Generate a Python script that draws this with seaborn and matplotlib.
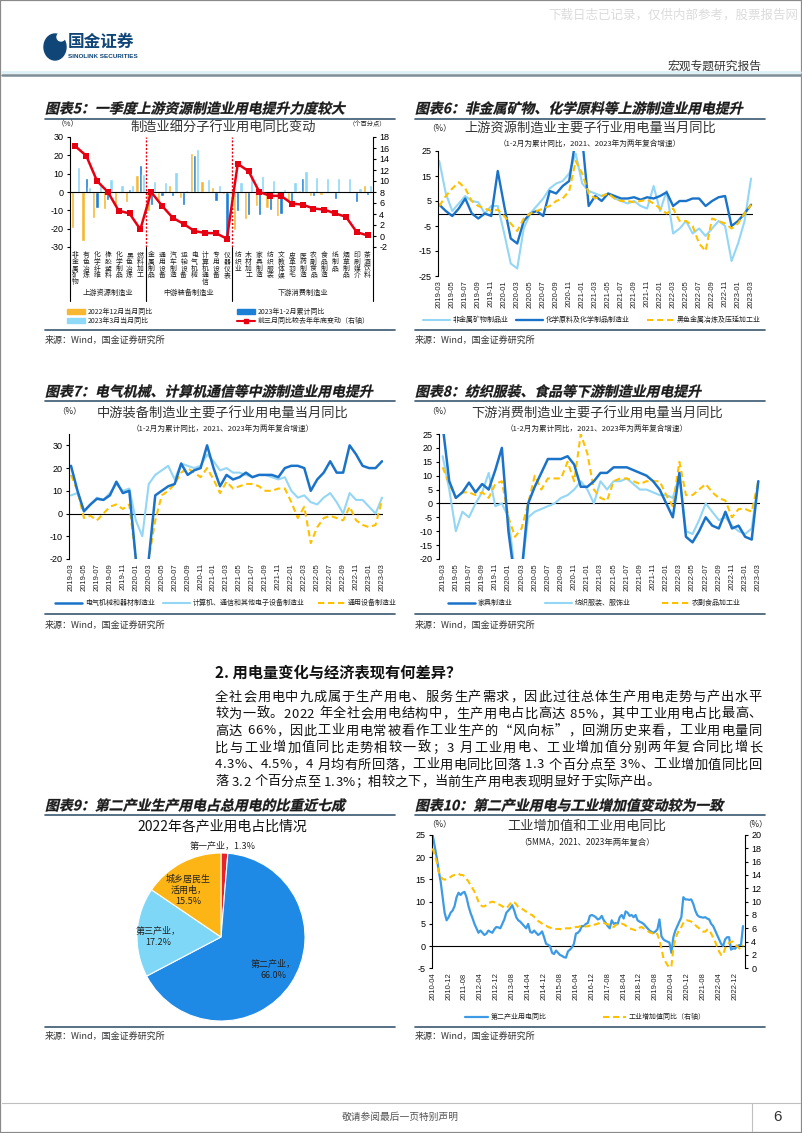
import numpy as np
import pandas as pd
import matplotlib
matplotlib.use('Agg')
import matplotlib.pyplot as plt
import matplotlib.transforms as mtrans
from matplotlib.lines import Line2D
from matplotlib.patches import Patch, Rectangle, Ellipse, PathPatch
from matplotlib.textpath import TextPath
from matplotlib.font_manager import FontProperties
import seaborn as sns

sns.set_theme(style='white')
plt.rcParams['font.family'] = ['Noto Sans CJK SC', 'DejaVu Sans']
plt.rcParams['axes.unicode_minus'] = False
plt.rcParams['axes.linewidth'] = 0.8

# ------------------------------------------------------------------ DATA
cats5 = ['非金属矿物', '有色冶炼', '化学纤维', '橡胶塑料', '化学制品', '黑色冶炼', '燃料加工',
         '金属制品', '通用设备', '汽车制造', '运输设备', '电气机械', '计算机通信', '专用设备', '仪器仪表',
         '纺织业', '木材加工', '家具制造', '纺织服装', '文教体娱', '皮革羽毛', '医药制造', '农副食品',
         '食品制造', '纸制品', '烟草制品', '印刷媒介', '茶酒饮料']
groups5 = ['上游资源制造业', '中游装备制造业', '下游消费制造业']
dec22 = [-19.5, -26.5, -14.3, -9.3, -7, -5.5, 9.5,
         -10.6, -5, 4, -3, 21.4, 5.9, 2.7, -1,
         -20.7, -14.6, -7.9, -8.8, -13, -6, 1, -2, -1.8, 0.8, 0.5, 0.5, 3.7]
jf23 = [0.5, 7.7, -8.8, -4.6, 0.4, 1.6, 14.5,
        -7.3, -2.4, -2.4, -7, 20, 0.5, -4.8, -25.5,
        -10.6, -12.8, -12.8, -9.9, -11.9, -8.2, 7.7, -2, 0.5, -3.8, 0.3, -5.7, -1.8]
mar23 = [13.5, 3, 4, 7.3, 3.7, 3.7, 10,
         6.2, 5.3, 10.8, 1, 23.3, 7.3, 3.7, -1,
         5.5, 9, 9, 6.6, 1.6, 5.5, 11.3, 8.4, 7.5, 7.7, 7.9, 2, 4]
red5 = [16.3, 14.6, 10.0, 8.0, 4.6, 4.1, 1.2,
        8.0, 5.5, 3.3, 2.2, 0.9, 0.55, 0.5, -0.5,
        13.1, 11.8, 8.0, 7.3, 7.3, 5.9, 5.7, 5.0, 4.8, 4.1, 3.5, 0.7, 0.1]
leg5 = ['2022年12月当月同比', '2023年1-2月累计同比', '2023年3月当月同比', '前三月同比较去年年底变动（右轴）']

ticks_m = ['2019-03', '2019-05', '2019-07', '2019-09', '2019-11', '2020-01', '2020-03', '2020-05',
           '2020-07', '2020-09', '2020-11', '2021-01', '2021-03', '2021-05', '2021-07', '2021-09',
           '2021-11', '2022-01', '2022-03', '2022-05', '2022-07', '2022-09', '2022-11', '2023-01', '2023-03']

c6_lb = [21, 8, 1, 4, 7, 5, 4.5, 0, 3, 3, -8, -20, -22, -6, 0, 3, 6, 10, 12, 13,
         16, 24, 12, 9, 8, 7, 8, 6, 5, 4, 5, 3, 2, 11, 1, 9, -8, -6, -3, -8,
         -6, -9, -6, -3, -5, -19, -12, -3, 14]
c6_db = [3.5, 1, -1, 2, 6, 0, -2, 0, -1, 17, 3, -10, -12, -3, 0, 1, -1, 9, 8, 11,
         13, 30, 30, 3, 7, 5, 8, 7, 6, 6, 6.5, 5.5, 6.5, 6, 7, 8.5, 3, 5, 5, 6,
         6, 3, 5, 6.5, 7, -5, -3, 0, 3.5]
c6_yl = [3, 7, 10, 12.5, 10, 5, 3, 2, 1, 1.5, -1, -4, -7, -2, 0, 1, 2, 3, 5, 6,
         9, 21, 16, 8, 6, 7, 8, 6, 5, 5, 4.5, 5, 5.5, 4, 2, 0, 2, -3, -3, -5,
         -12, -15, -2, -3, -4, -6, -4, 0, 3.5]
leg6 = ['非金属矿物制品业', '化学原料及化学制品制造业', '黑色金属冶炼及压延加工业']

c7_db = [21, 10, 1, 4, 6.5, 6, 8, 14, 9, 10, -20, -28, -20, 8, 10, 12, 13, 22, 17, 19,
         20, 30, 20, 12, 17, 15, 16, 18, 16, 17, 17, 17, 16, 20, 21, 21, 20, 10, 15, 18,
         23, 18, 18, 30, 26, 21, 20, 20, 23]
c7_lb = [8, 9, 1, 4, 7, 6, 9, 13, 10, 11, -3, -10, 13, 17, 19, 21, 15, 22, 21, 20,
         21, 26, 23, 19, 20, 18, 18, 17, 16, 17, 17, 16, 15, 16, 10, 7, 8, 5, 4, 7,
         9, 5, 0, 9, 6, 6, 3, 0, 7]
c7_yl = [17, 10, -2, -1, -3, 0, 3, 4, 2, 4, -20, -28, -20, -3, 8, 10, 13, 18, 20, 18,
         16, 20, 15, 9, 14, 11, 12, 13, 13, 12, 10, 10, 11, 11, 5, -2, 3, -13, -6, -2,
         -1, -2, -3, 3, -3, -5, -6, -5, 6]
leg7 = ['电气机械和器材制造业', '计算机、通信和其他电子设备制造业', '通用设备制造业']

c8_db = [28, 8, 2, 4, 7.5, 4, 7, 5, 12, 20, -10, -28, -25, 0, 6, 11, 16, 16, 16, 17,
         14, 6, 6, 8, 11, 11, 13, 13, 13, 12, 11, 10, 8, 5, 0, -5, 11, -12, -14, -10,
         -5, -8, -9, -3, -9, -8, -12, -13, 8]
c8_lb = [17, 5, -10, -3, -5, 0, 4, 11, -1, 0, -5, -25, -25, -5, -3, -2, -1, 0, 2, 3,
         5, 8, 5, 0, 8, 5, 8, 8, 9, 7, 5, 5, 4, 3, 3, 2, 10, -10, -11, -6,
         0, -3, -6, -5, -8, -10, -11, -9, 8]
c8_yl = [13, 7, 2, 4, 4, 3, 4, 2, 7, 8, -5, -12, -9, 0, 10, 5, 9, 9, 9, 15,
         8, 25, 18, 5, 2, 1, 8, 9, 9, 8, 7, 8, 8, 8, 3, -1, 15, 3, 3, 5,
         7, 4, 2, 1, -5, -2, -2, -3, 8]
leg8 = ['家具制造业', '纺织服装、服饰业', '农副食品加工业']

pie_labels = ['第一产业', '第二产业', '第三产业', '城乡居民生活用电']
pie_vals = [1.3, 66.0, 17.2, 15.5]

ticks10 = ['2010-04', '2010-12', '2011-08', '2012-04', '2012-12', '2013-08', '2014-04', '2014-12',
           '2015-08', '2016-04', '2016-12', '2017-08', '2018-04', '2018-12', '2019-08', '2020-04',
           '2020-12', '2021-08', '2022-04', '2022-12']
blue10 = [25, 22.5, 20, 17, 14.5, 11, 7.5, 5.8, 6.5, 7.5,
          8, 9, 11, 12, 11.5, 12, 12.2, 11, 9, 7.5,
          6.3, 5, 4, 3, 3.5, 3, 2.5, 2.8, 3.5, 3.2,
          3, 3.8, 4.3, 4.2, 4, 5, 6, 7.5, 8, 8.5,
          9.2, 8, 6.5, 5.8, 5.5, 5, 4.5, 4, 5, 3.2,
          3, 3.5, 3, 2.5, 2.8, 3.3, 2, 0.5, 0.3, 0,
          -1.5, -1.8, -1, -1.5, -2, -2.2, -2.5, -2.6, -1.2, -0.8,
          -0.3, 0.5, 2.8, 3, 3.5, 4.5, 4.5, 5, 5.2, 6.8,
          7, 6.8, 6.5, 6, 6.2, 6.8, 5.8, 5.2, 4.5, 4,
          5.8, 5, 5.2, 5, 6.5, 7, 6.2, 7.8, 7.5, 6.8,
          7, 6.5, 7, 5.8, 5.5, 5.3, 5, 4.5, 4, 3.5,
          3.2, 3, 3.3, 3.8, 6, 2.2, 1.5, 1.2, 1, 0.8,
          -1.5, 2, 3.5, 4.5, 5.5, 6.5, 11, 10.5, 10.5, 10.4,
          10.5, 9.5, 8, 7, 6.6, 6.5, 6.4, 6.5, 6.2, 6,
          5, 4.5, 3.5, 2.5, 1.5, 0.5, 0, 1.5, 2, 2,
          -0.8, -0.5, -0.6, 0, 0.2, 0.3, 4.5]
yel10 = [18, 17, 16, 14.5, 13.8, 13.4, 13.3, 13.4, 13.5, 13.7,
         13.9, 14, 14.1, 14.2, 14, 14, 13.8, 13.4, 13, 12.5,
         12, 11.5, 10.8, 10, 9.5, 9.3, 9.3, 9.5, 9.8, 9.9,
         10, 9.9, 9.8, 9.6, 9.5, 9.3, 9.1, 9, 9.3, 9.7,
         10, 9.9, 9.6, 9.2, 9, 8.9, 8.7, 8.5, 8.3, 8.1,
         8, 7.7, 7.4, 7.1, 6.9, 6.7, 6.5, 6.4, 6.2, 6.1,
         6, 5.9, 5.9, 5.9, 5.9, 5.8, 5.9, 6, 6, 6,
         6.1, 6.1, 6.2, 6.2, 6.3, 6.3, 6.2, 6.3, 6.3, 6.4,
         6.3, 6.5, 6.6, 6.7, 6.8, 6.9, 6.8, 6.7, 6.6, 6.5,
         6.3, 6.2, 6.5, 6.6, 6.7, 6.7, 6.6, 6.4, 6.2, 6,
         5.9, 5.8, 5.7, 5.9, 6.1, 6.2, 6, 5.8, 5.6, 5.4,
         5.3, 5.2, 5.4, 5.1, 4.2, 3, 1.5, 1, 0.5, 0.1,
         0.3, 3, 4.5, 5.2, 5.8, 6.2, 6.8, 7.2, 7.2, 7.1,
         7, 6.8, 6.5, 6.2, 6, 5.7, 5.5, 5.5, 5.8, 5.8,
         5.2, 4.6, 4, 3.2, 2.5, 2, 2, 3, 3.6, 3.8,
         4, 4, 3.6, 3.3, 3, 2.9, 3.5]
leg10 = ['第二产业用电同比', '工业增加值同比（右轴）']

para_head = '2. 用电量变化与经济表现有何差异？'
para_lines = [
    '全社会用电中九成属于生产用电、服务生产需求，因此过往总体生产用电走势与产出水平',
    '较为一致。2022 年全社会用电结构中，生产用电占比高达 85%，其中工业用电占比最高、',
    '高达 66%，因此工业用电常被看作工业生产的“风向标”，回溯历史来看，工业用电量同',
    '比与工业增加值同比走势相较一致；3 月工业用电、工业增加值分别两年复合同比增长',
    '4.3%、4.5%，4 月均有所回落，工业用电同比回落 1.3 个百分点至 3%、工业增加值同比回',
    '落 3.2 个百分点至 1.3%；相较之下，当前生产用电表现明显好于实际产出。',
]

# ------------------------------------------------------------------ STYLE
YEL, DBL, LBL, RED = '#F7B731', '#1B7FD6', '#8ED8F8', '#E60012'
L_DB, L_LB, L_YL = '#1A73C8', '#93D6F5', '#FFC000'
C10_B = '#3C9BE4'
DASH = (0, (3, 1.8))
NUMF = 'Liberation Sans'
TXT = '#222222'
RULE = '#3B5770'
SRC = '来源：Wind，国金证券研究所'

W, H = 802, 1133
fig = plt.figure(figsize=(W / 100, H / 100), dpi=100)
fig.patch.set_facecolor('white')


def fx(x):
    return x / W


def fy(y):
    return 1 - y / H


def box(x0, y0, x1, y1):
    return fig.add_axes([fx(x0), fy(y1), (x1 - x0) / W, (y1 - y0) / H])


def txt(x, y, s, **kw):
    kw.setdefault('color', TXT)
    kw.setdefault('va', 'center')
    return fig.text(fx(x), fy(y), s, **kw)


def hline(x0, x1, y, color=RULE, lw=1.2):
    fig.add_artist(Line2D([fx(x0), fx(x1)], [fy(y), fy(y)], color=color, lw=lw))


def ititle(x, y, s, size_pt=10):
    """Bold oblique chart caption, drawn as a sheared text path."""
    px = size_pt * 100 / 72
    try:
        fp = FontProperties(family='Noto Sans CJK SC', weight='bold')
        tp = TextPath((0, 0), s, size=px, prop=fp)
        tr = mtrans.Affine2D().skew_deg(13, 0).translate(x, H - y - px * 0.38)
        fig.add_artist(PathPatch(tp, transform=tr, facecolor='#1a1a1a', edgecolor='#1a1a1a',
                                 lw=0.2))
    except Exception:
        txt(x, y, s, fontsize=size_pt, fontweight='bold')


def leg_item(x, y, handle, label, hl=3.9, fs=5, hh=0.7):
    lg = fig.legend([handle], [label], loc='center left', bbox_to_anchor=(fx(x), fy(y)),
                    frameon=False, fontsize=fs, handlelength=hl, handleheight=hh,
                    handletextpad=0.4, borderpad=0, borderaxespad=0)
    for t in lg.get_texts():
        t.set_color(TXT)


def style_axis(ax):
    for s in ['top', 'right', 'bottom']:
        ax.spines[s].set_visible(False)
    ax.spines['left'].set_color('black')
    ax.tick_params(axis='y', labelsize=6.5, length=2.5, width=0.8, direction='out', pad=2,
                   colors='black', labelfontfamily=NUMF, left=True)
    ax.tick_params(axis='x', labelsize=5.5, length=0, pad=3, labelrotation=90,
                   labelfontfamily=NUMF, colors='#222222')
    ax.set_xlabel('')
    ax.set_ylabel('')


# ------------------------------------------------------------------ PAGE HEADER / FRAME
fig.add_artist(Rectangle((0, 0), 1, 1, transform=fig.transFigure, fill=False,
                         edgecolor='#8A8A8A', lw=1.6))
txt(798, 15, '下载日志已记录，仅供内部参考，股票报告网', ha='right', fontsize=9, color='#DCDCDC')
fig.add_artist(Ellipse((fx(55), fy(47)), 22 / W, 26 / H, transform=fig.transFigure,
                       color='#0F4577'))
fig.add_artist(Ellipse((fx(61), fy(37)), 8 / W, 8 / H, transform=fig.transFigure, color='white'))
txt(68, 42, '国金证券', fontsize=12, fontweight='bold', color='#0F4577')
txt(68, 56, 'SINOLINK SECURITIES', fontsize=4.6, fontweight='bold', color='#0F4577',
    family=NUMF)
txt(762, 66, '宏观专题研究报告', ha='right', fontsize=8.5, color='#333333')
hline(2, 800, 72, color='#DDEFF7', lw=2.0)
hline(2, 800, 75, color='#7F8C95', lw=1.8)

# ------------------------------------------------------------------ CHART 5
ititle(45, 108, '图表5：一季度上游资源制造业用电提升力度较大')
hline(45, 395, 119)
txt(57, 124, '（%）', fontsize=5.5)
txt(223, 128, '制造业细分子行业用电同比变动', ha='center', fontsize=9.5, color='#333333')
txt(386, 124, '（个百分点）', ha='right', fontsize=4.5)

ax5 = box(70, 137, 373, 247)
df5 = pd.DataFrame({'cat': cats5 * 3,
                    'val': dec22 + jf23 + mar23,
                    'ser': [leg5[0]] * 28 + [leg5[1]] * 28 + [leg5[2]] * 28})
sns.barplot(data=df5, x='cat', y='val', hue='ser', order=cats5, hue_order=leg5[:3],
            palette=[YEL, DBL, LBL], saturation=1, width=0.9, errorbar=None,
            legend=False, ax=ax5)
ax5.axhline(0, color='black', lw=0.8, zorder=3)
for b in (6.5, 14.5):
    ax5.axvline(b, color=RED, lw=1.0, ls=(0, (1.5, 1.2)), zorder=3)
ax5.set_ylim(-30, 30)
ax5.set_yticks(range(-30, 31, 10))
style_axis(ax5)
ax5.set_xticks(range(len(cats5)))
ax5.set_xticklabels(['\n'.join(c) for c in cats5], rotation=0, fontsize=4.9,
                    linespacing=0.78, va='top', family='Noto Sans CJK SC')
ax5.tick_params(axis='x', pad=3, labelrotation=0)
tr5 = mtrans.blended_transform_factory(ax5.transData, ax5.transAxes)
for b in (-0.5, 6.5, 14.5, 27.5):
    ax5.add_line(Line2D([b, b], [0, -0.49], transform=tr5, color='black', lw=0.8, clip_on=False))
for c, g in zip((3, 10.5, 21), groups5):
    ax5.text(c, -0.42, g, transform=tr5, ha='center', va='center', fontsize=5.2, color=TXT)

ax5r = ax5.twinx()
sns.lineplot(x=np.arange(len(red5)), y=red5, ax=ax5r, color=RED, lw=1.8, marker='s',
             markersize=4.5, markeredgewidth=0, legend=False)
ax5r.set_ylim(-2, 18)
ax5r.set_yticks(range(-2, 19, 2))
for s in ['top', 'left', 'bottom']:
    ax5r.spines[s].set_visible(False)
ax5r.spines['right'].set_color('black')
ax5r.tick_params(axis='y', labelsize=6.5, length=2.5, width=0.8, direction='out', pad=2,
                 colors='black', labelfontfamily=NUMF, right=True)
ax5r.set_ylabel('')
ax5.set_xlim(-0.5, 27.5)

leg_item(67, 312, Patch(color=YEL), leg5[0], hl=2.6, hh=0.7)
leg_item(237, 312, Patch(color=DBL), leg5[1], hl=2.6, hh=0.7)
leg_item(67, 321, Patch(color=LBL), leg5[2], hl=2.6, hh=0.7)
leg_item(237, 321, Line2D([], [], color=RED, lw=1.5, marker='s', markersize=3), leg5[3], hl=2.6)
hline(45, 395, 330)
txt(45, 340, SRC, fontsize=6.5, color='#333333')


# ------------------------------------------------------------------ generic line charts
def line_chart(bx, series, colors, dashed, lws, ylim, yticks, xlim):
    ax = box(*bx)
    x = np.arange(len(series[0]))
    for v, c, d, lw in zip(series, colors, dashed, lws):
        sns.lineplot(x=x, y=v, ax=ax, color=c, lw=lw, linestyle=DASH if d else '-',
                     legend=False, estimator=None)
    ax.axhline(0, color='black', lw=0.8, zorder=0.5)
    ax.set_ylim(*ylim)
    ax.set_yticks(yticks)
    ax.set_xlim(*xlim)
    ax.set_xticks(range(0, len(series[0]), 2))
    ax.set_xticklabels(ticks_m)
    style_axis(ax)
    return ax


# chart 6
ititle(415, 108, '图表6：非金属矿物、化学原料等上游制造业用电提升')
hline(415, 765, 119)
txt(427, 128, '（%）', fontsize=6)
txt(590, 129, '上游资源制造业主要子行业用电量当月同比', ha='center', fontsize=9.5, color='#333333')
txt(590, 144, '（1-2月为累计同比，2021、2023年为两年复合增速）', ha='center', fontsize=5.5)
line_chart((438, 151, 753, 276), [c6_lb, c6_db, c6_yl], [L_LB, L_DB, L_YL],
           [False, False, True], [1.5, 1.7, 1.5], (-25, 25), range(-25, 26, 10), (-0.2, 48.3))
leg_item(423, 320, Line2D([], [], color=L_LB, lw=1.5), leg6[0])
leg_item(516, 320, Line2D([], [], color=L_DB, lw=1.7), leg6[1])
leg_item(647, 320, Line2D([], [], color=L_YL, lw=1.5, ls=DASH), leg6[2])
hline(415, 765, 330)
txt(415, 340, SRC, fontsize=6.5, color='#333333')

# chart 7
ititle(45, 391, '图表7：电气机械、计算机通信等中游制造业用电提升')
hline(45, 395, 401)
txt(57, 411, '（%）', fontsize=6)
txt(223, 414, '中游装备制造业主要子行业用电量当月同比', ha='center', fontsize=9.5, color='#333333')
txt(223, 429, '（1-2月为累计同比，2021、2023年为两年复合增速）', ha='center', fontsize=5.5)
line_chart((69, 434, 383, 559), [c7_lb, c7_yl, c7_db], [L_LB, L_YL, L_DB],
           [False, True, False], [1.5, 1.5, 1.8], (-20, 35), range(-20, 31, 10), (-0.31, 48.15))
leg_item(55, 603, Line2D([], [], color=L_DB, lw=1.8), leg7[0])
leg_item(163, 603, Line2D([], [], color=L_LB, lw=1.5), leg7[1])
leg_item(318, 603, Line2D([], [], color=L_YL, lw=1.5, ls=DASH), leg7[2])
hline(45, 395, 614)
txt(45, 625, SRC, fontsize=6.5, color='#333333')

# chart 8
ititle(415, 391, '图表8：纺织服装、食品等下游制造业用电提升')
hline(415, 765, 401)
txt(427, 411, '（%）', fontsize=6)
txt(597, 414, '下游消费制造业主要子行业用电量当月同比', ha='center', fontsize=9.5, color='#333333')
txt(597, 429, '（1-2月为累计同比，2021、2023年为两年复合增速）', ha='center', fontsize=5.5)
line_chart((439, 434, 760, 559), [c8_lb, c8_yl, c8_db], [L_LB, L_YL, L_DB],
           [False, True, False], [1.5, 1.5, 1.8], (-20, 25), range(-20, 26, 5), (-0.56, 48.26))
leg_item(448, 603, Line2D([], [], color=L_DB, lw=1.8), leg8[0])
leg_item(545, 603, Line2D([], [], color=L_LB, lw=1.5), leg8[1])
leg_item(662, 603, Line2D([], [], color=L_YL, lw=1.5, ls=DASH), leg8[2])
hline(415, 765, 614)
txt(415, 625, SRC, fontsize=6.5, color='#333333')

# ------------------------------------------------------------------ TEXT SECTION
txt(215, 672, para_head, fontsize=11, fontweight='bold', color='#111111')
renderer = fig.canvas.get_renderer()


def justified(line, x0, x1, y, size, justify=True):
    objs, widths = [], []
    for ch in line:
        if ch == ' ':
            objs.append(None)
            widths.append(size * 100 / 72 * 0.28)
            continue
        t = fig.text(0, 0, ch, fontsize=size, va='center', ha='left', color='#111111')
        objs.append(t)
        widths.append(t.get_window_extent(renderer=renderer).width)
    gap = (x1 - x0 - sum(widths)) / (len(line) - 1) if justify else 0.0
    x = x0
    for t, w in zip(objs, widths):
        if t is not None:
            t.set_position((fx(x), fy(y)))
        x += w + gap


for k, ln in enumerate(para_lines):
    justified(ln, 215, 762, 697 + 17 * k, 9.5, justify=(k < len(para_lines) - 1))

# ------------------------------------------------------------------ CHART 9 (pie)
ititle(45, 805, '图表9：第二产业生产用电占总用电的比重近七成')
hline(45, 395, 815)
txt(222, 826, '2022年各产业用电占比情况', ha='center', fontsize=10, color='#111111')
ax9 = box(137, 853, 305, 1021)
ax9.pie(pie_vals, colors=['#E3242B', '#1F8AE6', '#7FD7F7', '#FDB515'], startangle=90,
        counterclock=False, wedgeprops=dict(linewidth=0.8, edgecolor='white'))
ax9.set_xlim(-1, 1)
ax9.set_ylim(-1, 1)
ax9.set_aspect('equal')
ax9.axis('off')
pie_txt = [f'{pie_labels[0]}，{pie_vals[0]:.1f}%',
           f'{pie_labels[1]}，\n{pie_vals[1]:.1f}%',
           f'{pie_labels[2]}，\n{pie_vals[2]:.1f}%',
           '城乡居民生\n活用电，\n' + f'{pie_vals[3]:.1f}%']
pie_pos = [(0.02, 1.08), (0.62, -0.39), (-0.75, 0.0), (-0.39, 0.56)]
for s, (px, py) in zip(pie_txt, pie_pos):
    ax9.text(px, py, s, ha='center', va='center', fontsize=6.5, color='#222222',
             linespacing=1.3, clip_on=False)
hline(45, 395, 1027)
txt(45, 1036, SRC, fontsize=6.5, color='#333333')

# ------------------------------------------------------------------ CHART 10
ititle(415, 805, '图表10：第二产业用电与工业增加值变动较为一致')
hline(415, 765, 815)
txt(427, 824, '（%）', fontsize=6)
txt(743, 824, '（%）', fontsize=6)
txt(587, 826, '工业增加值和工业用电同比', ha='center', fontsize=9.5, color='#333333')
txt(587, 842, '（5MMA，2021、2023年两年复合）', ha='center', fontsize=6)
ax10 = box(431.7, 835, 745, 968.3)
x10 = np.arange(len(blue10))
sns.lineplot(x=x10, y=blue10, ax=ax10, color=C10_B, lw=1.6, legend=False, estimator=None)
ax10.axhline(0, color='black', lw=0.8, zorder=0.5)
ax10.set_ylim(-5, 25)
ax10.set_yticks(range(-5, 26, 5))
ax10.set_xlim(-0.5, 157)
ax10.set_xticks(range(0, 153, 8))
ax10.set_xticklabels(ticks10)
style_axis(ax10)
ax10r = ax10.twinx()
sns.lineplot(x=x10, y=yel10, ax=ax10r, color=L_YL, lw=1.5, linestyle=DASH, legend=False,
             estimator=None)
ax10r.set_ylim(0, 20)
ax10r.set_yticks(range(0, 21, 2))
for s in ['top', 'left', 'bottom']:
    ax10r.spines[s].set_visible(False)
ax10r.spines['right'].set_color('black')
ax10r.tick_params(axis='y', labelsize=6.5, length=2.5, width=0.8, direction='out', pad=2,
                  colors='black', labelfontfamily=NUMF, right=True)
ax10r.set_ylabel('')
ax10.set_xlim(-0.5, 157)
leg_item(465, 1017, Line2D([], [], color=C10_B, lw=1.6), leg10[0], hl=3.3)
leg_item(603, 1017, Line2D([], [], color=L_YL, lw=1.5, ls=DASH), leg10[1], hl=3.3)
hline(415, 765, 1027)
txt(415, 1036, SRC, fontsize=6.5, color='#333333')

# ------------------------------------------------------------------ FOOTER
hline(2, 800, 1103, color='#BFBFBF', lw=0.8)
fig.add_artist(Line2D([fx(752), fx(752)], [fy(1103), fy(1131)], color='#BFBFBF', lw=0.8))
txt(400, 1117, '敬请参阅最后一页特别声明', ha='center', fontsize=7, color='#555555')
txt(778, 1117, '6', ha='center', fontsize=11, color='#333333', family=NUMF)

fig.savefig('out.png', dpi=100, facecolor='white')
